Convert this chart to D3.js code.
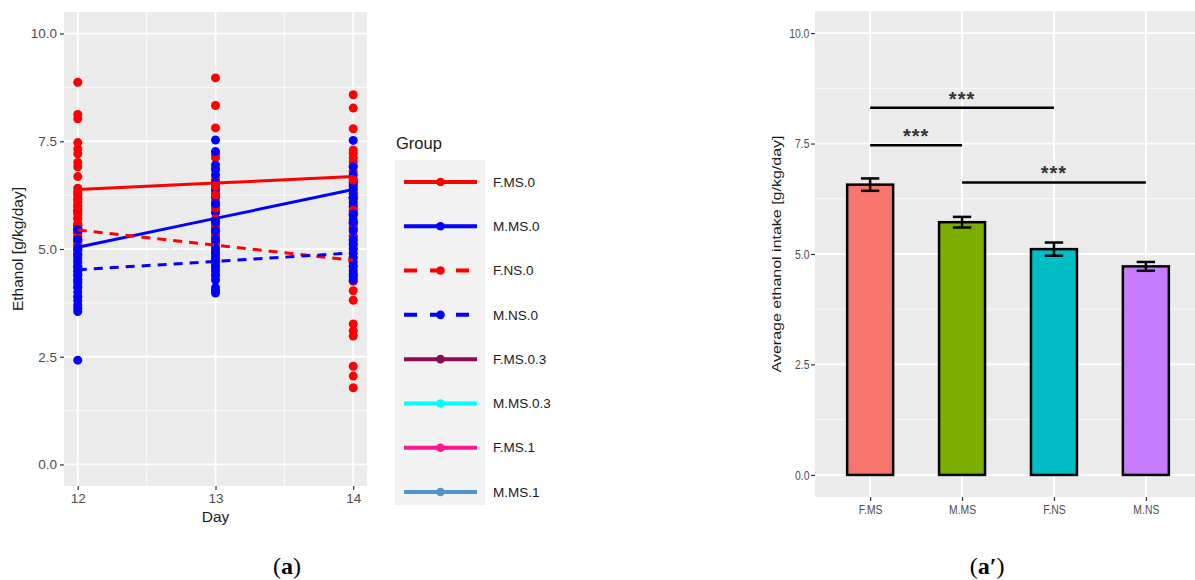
<!DOCTYPE html>
<html>
<head>
<meta charset="utf-8">
<script src="https://cdn.jsdelivr.net/npm/d3@7"></script>
<style>
  body { margin: 0; background: #fff; }
  svg text { font-family: 'Liberation Sans', Arial, sans-serif; }
</style>
</head>
<body>
<svg id="chart" width="1195" height="580"></svg>
<script>
// ---- left chart data (a) ----
const days = [12, 13, 14]
const yTicks = [0, 2.5, 5, 7.5, 10]
const yMinor = [1.25, 3.75, 6.25, 8.75]
const dayMinor = [12.5, 13.5]

const groupNames = ['F.MS.0', 'M.MS.0', 'F.NS.0', 'M.NS.0', 'F.MS.0.3', 'M.MS.0.3', 'F.MS.1', 'M.MS.1']

// one list per day (12, 13, 14)
const fMs0Points = [
  [8.87, 8.12, 8.02, 7.47, 7.32, 7.21, 7.01, 6.91, 6.68, 6.41, 6.33, 6.25, 6.16, 6.08, 6.0, 5.92, 5.8, 5.7, 5.55, 5.4, 5.2, 4.95],
  [8.97, 8.33, 7.81, 7.2, 7.12, 6.84, 6.62, 6.45, 6.3, 6.22, 6.1, 5.98, 5.85, 5.6, 5.4, 5.2],
  [8.58, 8.27, 7.79, 7.3, 7.22, 7.12, 7.02, 6.92, 6.8, 6.62, 6.5, 6.4, 6.28, 6.15, 6.0, 5.8, 5.5, 5.2]
]
const mMs0Points = [
  [5.88, 5.55, 5.48, 5.38, 5.28, 5.18, 5.08, 4.98, 4.88, 4.78, 4.68, 4.58, 4.48, 4.38, 4.25, 4.12, 2.42],
  [7.53, 7.26, 6.95, 6.85, 6.72, 6.55, 6.38, 6.2, 6.02, 5.85, 5.68, 5.5, 5.32, 5.15, 4.95, 4.75],
  [7.52, 6.91, 6.72, 6.55, 6.46, 6.37, 6.28, 6.18, 6.08, 5.98, 5.88, 5.78, 5.68, 5.58, 5.45, 5.3, 5.12]
]
const fNs0Points = [
  [6.3, 6.15, 6.0, 5.85, 5.72, 5.6, 5.5, 5.44, 5.3, 5.12, 4.98, 4.8, 4.6, 4.4, 3.89],
  [6.45, 6.25, 5.95, 5.7, 5.5, 5.3, 5.2, 5.1, 4.98, 4.85, 4.72, 4.6, 4.5, 4.38],
  [6.6, 6.2, 5.9, 5.6, 5.3, 5.0, 4.8, 4.6, 4.4, 4.25, 4.03, 3.81, 3.26, 3.1, 2.98, 2.28, 2.05, 1.78]
]
const mNs0Points = [
  [5.45, 5.22, 5.02, 4.86, 4.72, 4.6, 4.5, 4.4, 4.3, 4.2, 4.1, 4.0, 3.9, 3.8, 3.7, 3.62, 3.55],
  [6.05, 5.62, 5.42, 5.22, 5.02, 4.9, 4.8, 4.7, 4.6, 4.5, 4.4, 4.28, 4.1, 4.04, 3.98],
  [6.2, 5.82, 5.62, 5.42, 5.22, 5.1, 5.0, 4.9, 4.8, 4.7, 4.6, 4.5, 4.42, 4.35, 4.28]
]

// fitted lines at day 12, 13, 14
const fitFMs0 = [6.38, 6.53, 6.68]
const fitMMs0 = [5.04, 5.71, 6.38]
const fitFNs0 = [5.44, 5.09, 4.74]
const fitMNs0 = [4.52, 4.71, 4.91]

// ---- right chart data (a') ----
const barGroups = ['F.MS', 'M.MS', 'F.NS', 'M.NS']
const barMeans = [6.57, 5.72, 5.11, 4.72]
const barSe = [0.14, 0.12, 0.15, 0.1]
const sigFrom = ['F.MS', 'F.MS', 'M.MS']
const sigTo = ['M.MS', 'F.NS', 'M.NS']
const sigY = [7.46, 8.31, 6.62]
const sigText = ['***', '***', '***']

// ---- styles ----
const groupColors = ['#ff0000', '#0000ff', '#ff0000', '#0000ff', '#8b0a50', '#00ffff', '#ff1493', '#4f94cd']
const groupDashed = [false, false, true, true, false, false, false, false]
const barColors = ['#f8766d', '#7cae00', '#00bfc4', '#c77cff']
const panelBg = '#ebebeb'

const svg = d3.select('#chart')

// ================= left panel =================
const L = { x0: 64, x1: 367, y0: 12, y1: 486 }
const xL = d3.scaleLinear().domain([11.9, 14.1]).range([L.x0, L.x1])
const yL = d3.scaleLinear().domain([-0.5, 10.5]).range([L.y1, L.y0])

const left = svg.append('g')
left.append('rect')
  .attr('x', L.x0).attr('y', L.y0)
  .attr('width', L.x1 - L.x0).attr('height', L.y1 - L.y0)
  .attr('fill', panelBg)

left.selectAll('.ymin').data(yMinor).enter().append('line')
  .attr('x1', L.x0).attr('x2', L.x1)
  .attr('y1', d => yL(d)).attr('y2', d => yL(d))
  .attr('stroke', '#fff').attr('stroke-width', 0.8)
left.selectAll('.xmin').data(dayMinor).enter().append('line')
  .attr('x1', d => xL(d)).attr('x2', d => xL(d))
  .attr('y1', L.y0).attr('y2', L.y1)
  .attr('stroke', '#fff').attr('stroke-width', 0.8)
left.selectAll('.ymaj').data(yTicks).enter().append('line')
  .attr('x1', L.x0).attr('x2', L.x1)
  .attr('y1', d => yL(d)).attr('y2', d => yL(d))
  .attr('stroke', '#fff').attr('stroke-width', 1.8)
left.selectAll('.xmaj').data(days).enter().append('line')
  .attr('x1', d => xL(d)).attr('x2', d => xL(d))
  .attr('y1', L.y0).attr('y2', L.y1)
  .attr('stroke', '#fff').attr('stroke-width', 1.8)

const pointSets = [fMs0Points, mMs0Points, fNs0Points, mNs0Points]
const fitSets = [fitFMs0, fitMMs0, fitFNs0, fitMNs0]

pointSets.forEach((set, gi) => {
  var pts = []
  set.forEach((vals, di) => {
    vals.forEach(v => pts.push([days[di], v]))
  })
  left.append('g').selectAll('circle')
    .data(pts)
    .enter()
    .append('circle')
    .attr('cx', d => xL(d[0]))
    .attr('cy', d => yL(d[1]))
    .attr('r', 4.5)
    .attr('fill', groupColors[gi])
})

const fitLine = d3.line().x((d, i) => xL(days[i])).y(d => yL(d))
fitSets.forEach((fit, gi) => {
  left.append('path')
    .attr('d', fitLine(fit))
    .attr('fill', 'none')
    .attr('stroke', groupColors[gi])
    .attr('stroke-width', 3)
    .attr('stroke-dasharray', groupDashed[gi] ? '9,7' : null)
})

const yAxisL = left.append('g')
  .attr('transform', `translate(${L.x0},0)`)
  .call(d3.axisLeft(yL).tickValues(yTicks).tickFormat(d3.format('.1f')).tickSize(4).tickPadding(3))
const xAxisL = left.append('g')
  .attr('transform', `translate(0,${L.y1})`)
  .call(d3.axisBottom(xL).tickValues(days).tickFormat(d3.format('d')).tickSize(4).tickPadding(3))
;[yAxisL, xAxisL].forEach(ax => {
  ax.select('.domain').remove()
  ax.selectAll('.tick line').attr('stroke', '#333').attr('stroke-width', 1.2)
  ax.selectAll('.tick text').attr('fill', '#4d4d4d').style('font-size', '13.5px')
})

left.append('text')
  .attr('x', xL(13)).attr('y', 522)
  .attr('text-anchor', 'middle')
  .style('font-size', '15.5px').attr('fill', '#1a1a1a')
  .text('Day')
left.append('text')
  .attr('transform', `translate(23,${(L.y0 + L.y1) / 2}) rotate(-90)`)
  .attr('text-anchor', 'middle')
  .style('font-size', '15.5px').attr('fill', '#1a1a1a')
  .text('Ethanol [g/kg/day]')

// legend
const legend = svg.append('g')
legend.append('text')
  .attr('x', 396).attr('y', 149)
  .style('font-size', '16.5px').attr('fill', '#1a1a1a')
  .text('Group')
legend.append('rect')
  .attr('x', 395).attr('y', 160).attr('width', 90).attr('height', 345)
  .attr('fill', '#f2f2f2')

const rowY = d3.scalePoint().domain(groupNames).range([182, 492])
groupNames.forEach((name, i) => {
  const y = rowY(name)
  legend.append('line')
    .attr('x1', 404).attr('x2', 477).attr('y1', y).attr('y2', y)
    .attr('stroke', groupColors[i]).attr('stroke-width', 4)
    .attr('stroke-dasharray', groupDashed[i] ? '13,13' : null)
  legend.append('circle')
    .attr('cx', 440.5).attr('cy', y).attr('r', 4.3)
    .attr('fill', groupColors[i])
  legend.append('text')
    .attr('x', 493).attr('y', y).attr('dy', '0.35em')
    .style('font-size', '13.5px').attr('fill', '#1a1a1a')
    .text(name)
})

// ================= right panel =================
const R = { x0: 815, x1: 1201, y0: 11, y1: 497 }
const xR = d3.scalePoint().domain(barGroups).range([R.x0, R.x1]).padding(0.6)
const yR = d3.scaleLinear().domain([-0.5, 10.5]).range([R.y1, R.y0])
const step = xR.step()

const right = svg.append('g')
right.append('rect')
  .attr('x', R.x0).attr('y', R.y0)
  .attr('width', R.x1 - R.x0).attr('height', R.y1 - R.y0)
  .attr('fill', panelBg)
right.selectAll('.ymin').data(yMinor).enter().append('line')
  .attr('x1', R.x0).attr('x2', R.x1)
  .attr('y1', d => yR(d)).attr('y2', d => yR(d))
  .attr('stroke', '#fff').attr('stroke-width', 0.8)
right.selectAll('.ymaj').data(yTicks).enter().append('line')
  .attr('x1', R.x0).attr('x2', R.x1)
  .attr('y1', d => yR(d)).attr('y2', d => yR(d))
  .attr('stroke', '#fff').attr('stroke-width', 1.8)
right.selectAll('.xmaj').data(barGroups).enter().append('line')
  .attr('x1', d => xR(d)).attr('x2', d => xR(d))
  .attr('y1', R.y0).attr('y2', R.y1)
  .attr('stroke', '#fff').attr('stroke-width', 1.8)

const barW = step * 0.5
right.selectAll('.bar')
  .data(barGroups)
  .enter()
  .append('rect')
  .attr('x', d => xR(d) - barW / 2)
  .attr('y', (d, i) => yR(barMeans[i]))
  .attr('width', barW)
  .attr('height', (d, i) => yR(0) - yR(barMeans[i]))
  .attr('fill', (d, i) => barColors[i])
  .attr('stroke', '#000').attr('stroke-width', 2.5)

const whisk = step * 0.1
barGroups.forEach((g, i) => {
  const cx = xR(g)
  const lo = yR(barMeans[i] - barSe[i])
  const hi = yR(barMeans[i] + barSe[i])
  const eb = right.append('g').attr('stroke', '#000').attr('stroke-width', 2.5)
  eb.append('line').attr('x1', cx).attr('x2', cx).attr('y1', lo).attr('y2', hi)
  eb.append('line').attr('x1', cx - whisk).attr('x2', cx + whisk).attr('y1', lo).attr('y2', lo)
  eb.append('line').attr('x1', cx - whisk).attr('x2', cx + whisk).attr('y1', hi).attr('y2', hi)
})

sigText.forEach((t, i) => {
  const xa = xR(sigFrom[i])
  const xb = xR(sigTo[i])
  const y = yR(sigY[i])
  right.append('line')
    .attr('x1', xa).attr('x2', xb).attr('y1', y).attr('y2', y)
    .attr('stroke', '#000').attr('stroke-width', 2.4)
  right.append('text')
    .attr('x', (xa + xb) / 2).attr('y', y - 2)
    .attr('text-anchor', 'middle')
    .style('font-size', '20px').style('font-weight', 'bold')
    .style('letter-spacing', '1px')
    .attr('fill', '#333')
    .text(t)
})

const yAxisR = right.append('g')
  .attr('transform', `translate(${R.x0},0)`)
  .call(d3.axisLeft(yR).tickValues(yTicks).tickFormat(d3.format('.1f')).tickSize(4).tickPadding(3))
const xAxisR = right.append('g')
  .attr('transform', `translate(0,${R.y1})`)
  .call(d3.axisBottom(xR).tickSize(4).tickPadding(4))
;[yAxisR, xAxisR].forEach(ax => {
  ax.select('.domain').remove()
  ax.selectAll('.tick line').attr('stroke', '#333').attr('stroke-width', 1.2)
  ax.selectAll('.tick text').attr('fill', '#4d4d4d').style('font-size', '13px')
    .attr('transform', 'scale(0.8,1)')
})

right.append('text')
  .attr('transform', `translate(781,${(R.y0 + R.y1) / 2}) rotate(-90) scale(1,0.8)`)
  .attr('text-anchor', 'middle')
  .style('font-size', '16px').attr('fill', '#1a1a1a')
  .text('Average ethanol intake [g/kg/day]')

// ---- captions ----
const capA = svg.append('text')
  .attr('x', 287).attr('y', 574)
  .attr('text-anchor', 'middle')
  .style('font-family', "'Liberation Serif', 'DejaVu Serif', serif")
  .style('font-size', '24px').attr('fill', '#000')
capA.append('tspan').text('(')
capA.append('tspan').style('font-weight', 'bold').text('a')
capA.append('tspan').text(')')

const capB = svg.append('text')
  .attr('x', 987).attr('y', 574)
  .attr('text-anchor', 'middle')
  .style('font-family', "'Liberation Serif', 'DejaVu Serif', serif")
  .style('font-size', '24px').attr('fill', '#000')
capB.append('tspan').text('(')
capB.append('tspan').style('font-weight', 'bold').text('a\u2032')
capB.append('tspan').text(')')
</script>
</body>
</html>
